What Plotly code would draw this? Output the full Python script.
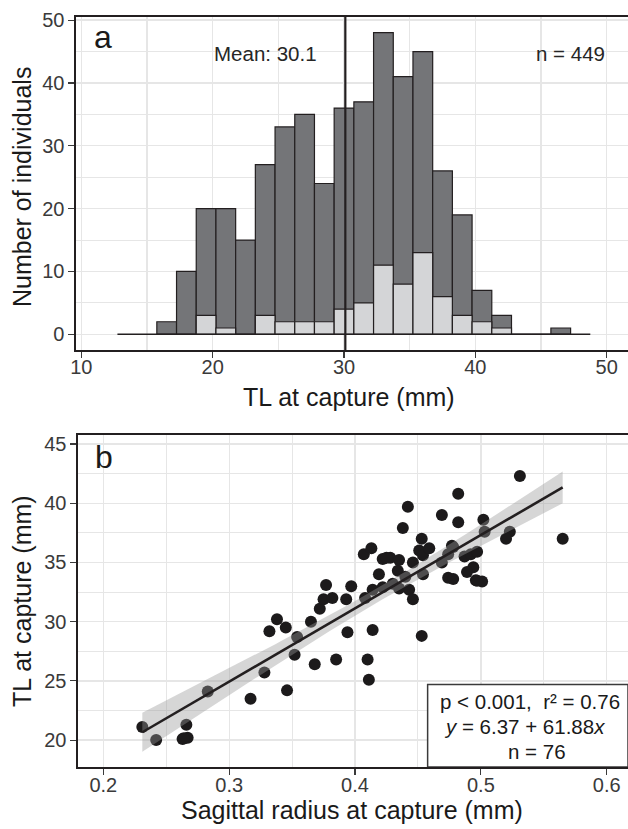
import numpy as np
import plotly.graph_objects as go

W, H = 628, 829

# ---------------- Panel a: histogram data ----------------
bin_centers = [16.5, 18, 19.5, 21, 22.5, 24, 25.5, 27, 28.5, 30, 31.5, 33,
               34.5, 36, 37.5, 39, 40.5, 42, 43.5, 45, 46.5]
total_counts = [2, 10, 20, 20, 15, 27, 33, 35, 24, 36, 37, 48,
                41, 45, 26, 19, 7, 3, 0, 0, 1]
subset_counts = [0, 0, 3, 1, 0, 3, 2, 2, 2, 4, 5, 11,
                 8, 13, 6, 3, 2, 1, 0, 0, 0]
bin_width = 1.5
hist_span = [12.75, 48.75]
mean_tl = 30.1
n_hist = 449
x_ticks_a = [10, 20, 30, 40, 50]
y_ticks_a = [0, 10, 20, 30, 40, 50]

# ---------------- Panel b: scatter data ----------------
sag_radius = [0.231, 0.242, 0.266, 0.263, 0.267, 0.283, 0.317, 0.328, 0.346, 0.332,
              0.338, 0.345, 0.352, 0.354, 0.365, 0.372, 0.375, 0.382, 0.377, 0.393,
              0.397, 0.394, 0.414, 0.408, 0.407, 0.413, 0.414, 0.419, 0.422, 0.428,
              0.422, 0.430, 0.434, 0.435, 0.435, 0.440, 0.443, 0.446, 0.446, 0.438,
              0.442, 0.451, 0.453, 0.454, 0.459, 0.469, 0.469, 0.474, 0.478, 0.477,
              0.482, 0.482, 0.453, 0.368, 0.385, 0.410, 0.411, 0.454, 0.531, 0.502,
              0.503, 0.523, 0.520, 0.565, 0.474, 0.487, 0.492, 0.497, 0.494, 0.489,
              0.496, 0.501, 0.264, 0.478, 0.425, 0.497]
tl_capture = [21.1, 20.0, 21.3, 20.1, 20.2, 24.1, 23.5, 25.7, 24.2, 29.2,
              30.2, 29.5, 27.2, 28.7, 30.0, 31.1, 31.9, 32.0, 33.1, 31.9,
              33.0, 29.1, 29.3, 32.0, 35.7, 36.2, 32.7, 34.0, 35.3, 35.4,
              32.9, 33.2, 34.3, 35.2, 32.8, 33.8, 32.7, 31.9, 35.0, 37.9,
              39.7, 36.0, 37.0, 35.6, 36.2, 39.0, 35.0, 33.7, 33.6, 36.4,
              40.8, 38.4, 28.8, 26.4, 26.8, 26.8, 25.1, 34.0, 42.3, 38.6,
              37.6, 37.6, 37.0, 37.0, 35.7, 35.5, 35.7, 35.9, 34.6, 34.2,
              33.5, 33.4, 20.15, 36.3, 35.4, 33.45]
fit_intercept = 6.37
fit_slope = 61.88
r_squared = 0.76
n_scatter = 76
x_ticks_b = [0.2, 0.3, 0.4, 0.5, 0.6]
y_ticks_b = [20, 25, 30, 35, 40, 45]

FONT = "Liberation Sans, Arial, Helvetica, sans-serif"
DARK = "#231f20"
TICKC = "#3a3a3a"
GRID = "#e6e6e6"

fig = go.Figure()

# Histogram bars (total, then subset overlay)
fig.add_trace(go.Bar(x=bin_centers, y=total_counts, width=bin_width,
                     marker=dict(color="#747578", line=dict(color=DARK, width=1.2)),
                     xaxis="x", yaxis="y", showlegend=False, hoverinfo="skip"))
fig.add_trace(go.Bar(x=bin_centers, y=subset_counts, width=bin_width,
                     marker=dict(color="#d4d5d7", line=dict(color=DARK, width=1.2)),
                     xaxis="x", yaxis="y", showlegend=False, hoverinfo="skip"))
# Baseline across histogram span
fig.add_trace(go.Scatter(x=hist_span, y=[0, 0], mode="lines",
                         line=dict(color=DARK, width=1.6),
                         xaxis="x", yaxis="y", showlegend=False, hoverinfo="skip"))

# Scatter points
xs = np.array(sag_radius)
ys = np.array(tl_capture)
fig.add_trace(go.Scatter(x=xs, y=ys, mode="markers",
                         marker=dict(color="#1c1a1b", size=12, line=dict(width=0)),
                         xaxis="x2", yaxis="y2", showlegend=False, hoverinfo="skip"))

# Confidence ribbon from the data around the reported fit
n = len(xs)
resid = ys - (fit_intercept + fit_slope * xs)
s = np.sqrt(np.sum(resid ** 2) / (n - 2))
sxx = np.sum((xs - xs.mean()) ** 2)
xg = np.linspace(xs.min(), xs.max(), 80)
yg = fit_intercept + fit_slope * xg
se = s * np.sqrt(1.0 / n + (xg - xs.mean()) ** 2 / sxx)
tcrit = 1.9925
upper = yg + tcrit * se
lower = yg - tcrit * se
fig.add_trace(go.Scatter(x=np.concatenate([xg, xg[::-1]]),
                         y=np.concatenate([upper, lower[::-1]]),
                         fill="toself", fillcolor="rgba(153,153,153,0.4)",
                         line=dict(width=0), mode="lines",
                         xaxis="x2", yaxis="y2", showlegend=False, hoverinfo="skip"))
fig.add_trace(go.Scatter(x=xg, y=yg, mode="lines",
                         line=dict(color=DARK, width=2.6),
                         xaxis="x2", yaxis="y2", showlegend=False, hoverinfo="skip"))


def px_x(p):
    return p / W


def px_y(p):
    return 1 - p / H


axis_common = dict(
    showline=True, linecolor=DARK, linewidth=1.6,
    ticks="outside", ticklen=6, tickwidth=1.2, tickcolor=TICKC,
    tickfont=dict(family=FONT, size=20, color=TICKC),
    showgrid=True, gridcolor=GRID, gridwidth=1.3,
    zeroline=False, automargin=False, fixedrange=True,
)

fig.update_layout(
    width=W, height=H,
    margin=dict(l=0, r=0, t=0, b=0),
    paper_bgcolor="white", plot_bgcolor="white",
    barmode="overlay", bargap=0,
    font=dict(family=FONT, color="#1a1a1a"),
    xaxis=dict(axis_common, domain=[px_x(76), 1.0], range=[9.596, 51.62],
               tickvals=x_ticks_a, mirror=True, anchor="y", ticklabelstandoff=-8,
               minor=dict(tickvals=[15, 25, 35, 45], showgrid=True,
                          gridcolor=GRID, gridwidth=1.1, ticks="")),
    yaxis=dict(axis_common, domain=[px_y(350), px_y(17)], range=[-2.5, 50.5],
               tickvals=y_ticks_a, anchor="x",
               minor=dict(tickvals=[5, 15, 25, 35, 45], showgrid=True,
                          gridcolor=GRID, gridwidth=1.1, ticks="")),
    xaxis2=dict(axis_common, domain=[px_x(78), 1.0], range=[0.1799, 0.6169],
                tickvals=x_ticks_b, ticktext=[f"{v:.1f}" for v in x_ticks_b],
                mirror=True, anchor="y2", ticklabelstandoff=-7,
                minor=dict(tickvals=[0.25, 0.35, 0.45, 0.55], showgrid=True,
                           gridcolor=GRID, gridwidth=1.1, ticks="")),
    yaxis2=dict(axis_common, domain=[px_y(767), px_y(435)], range=[17.73, 45.76],
                tickvals=y_ticks_b, anchor="x2",
                minor=dict(tickvals=[22.5, 27.5, 32.5, 37.5, 42.5], showgrid=True,
                           gridcolor=GRID, gridwidth=1.1, ticks="")),
)

# Mean line
fig.add_shape(type="line", xref="x", yref="y domain", x0=mean_tl, x1=mean_tl,
              y0=0, y1=1, line=dict(color=DARK, width=2.2), layer="above")

# Stats box in panel b
fig.add_shape(type="rect", xref="x2", yref="y2", x0=0.4577, x1=0.6169,
              y0=17.73, y1=24.69, fillcolor="white",
              line=dict(color="#3a3a3a", width=1.5), layer="above")

ann = []


def add_text(text, x, y, size, angle=0, color="#1a1a1a"):
    ann.append(dict(text=text, x=px_x(x), y=px_y(y), xref="paper", yref="paper",
                    xanchor="center", yanchor="middle", showarrow=False,
                    textangle=angle, font=dict(family=FONT, size=size, color=color)))


add_text("a", 103, 37, 32)
add_text("b", 104, 457, 32)
add_text(f"Mean: {mean_tl}", 265, 53, 20.5, color="#262626")
add_text(f"n = {n_hist}", 570, 53, 20.5, color="#262626")
add_text("TL at capture (mm)", 349, 397, 25)
add_text("Number of individuals", 22, 187, 25, angle=-90)
add_text("Sagittal radius at capture (mm)", 352, 810, 25)
add_text("TL at capture (mm)", 22, 601, 25, angle=-90)
add_text(f"p &lt; 0.001,  r² = {r_squared}", 530, 701, 20.5)
add_text(f"<i>y</i> = {fit_intercept} + {fit_slope}<i>x</i>", 524, 726, 20.5)
add_text(f"n = {n_scatter}", 537, 751, 20.5)

fig.update_layout(annotations=ann)

fig.write_html(
    "out.html",
    config={"displayModeBar": False, "staticPlot": True},
    post_script="document.body.style.margin='0px';document.body.style.padding='0px';"
                "document.body.style.overflow='hidden';",
)
